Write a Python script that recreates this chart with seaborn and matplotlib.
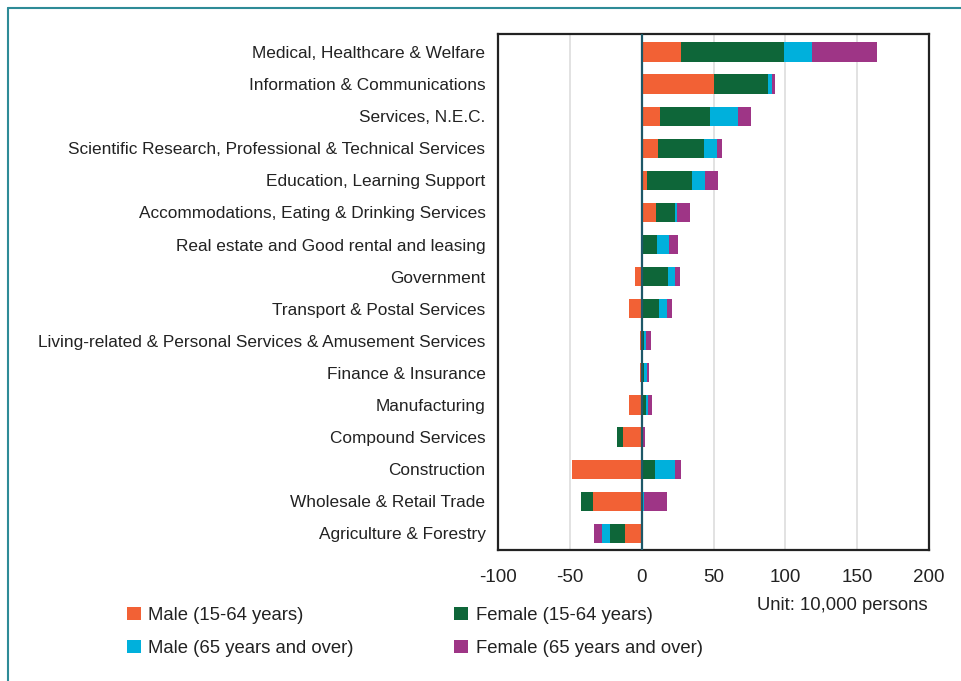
import numpy as np
import pandas as pd
import matplotlib
matplotlib.use("Agg")
import matplotlib.pyplot as plt
from matplotlib.patches import Patch
from matplotlib.lines import Line2D
import seaborn as sns

# Industries, top to bottom
industries = [
    "Medical, Healthcare & Welfare",
    "Information & Communications",
    "Services, N.E.C.",
    "Scientific Research, Professional & Technical Services",
    "Education, Learning Support",
    "Accommodations, Eating & Drinking Services",
    "Real estate and Good rental and leasing",
    "Government",
    "Transport & Postal Services",
    "Living-related & Personal Services & Amusement Services",
    "Finance & Insurance",
    "Manufacturing",
    "Compound Services",
    "Construction",
    "Wholesale & Retail Trade",
    "Agriculture & Forestry",
]

# change in employed persons (10,000 persons)
male_15_64 = [27.7, 50.0, 13.0, 11.6, 4.0, 10.2, 0.3, -4.4, -8.6, -0.9, -0.9, -8.6, -12.8, -48.4, -33.7, -11.4]
female_15_64 = [71.2, 37.7, 34.9, 32.1, 30.7, 13.3, 10.2, 18.6, 12.3, 1.9, 1.9, 3.3, -4.2, 9.5, -8.4, -10.5]
male_65_over = [19.5, 2.8, 19.5, 8.4, 9.1, 1.4, 8.4, 4.9, 5.6, 1.4, 2.1, 1.4, 1.2, 14.0, 1.9, -5.6]
female_65_over = [45.3, 2.1, 8.4, 3.5, 9.1, 8.4, 6.3, 3.5, 3.5, 3.5, 1.4, 2.8, 1.4, 4.2, 16.0, -5.6]

groups = ["Male (15-64 years)", "Female (15-64 years)",
          "Male (65 years and over)", "Female (65 years and over)"]
colors = ["#F26135", "#0E6639", "#00B0DC", "#9E3586"]

df = pd.DataFrame({"industry": industries,
                   groups[0]: male_15_64, groups[1]: female_15_64,
                   groups[2]: male_65_over, groups[3]: female_65_over})

sns.set_theme(style="white")
plt.rcParams["font.family"] = ["Liberation Sans", "DejaVu Sans"]
plt.rcParams["axes.unicode_minus"] = False

fig = plt.figure(figsize=(9.62, 6.81), dpi=100)
ax = fig.add_axes([498 / 962, 1 - 550 / 681, 431 / 962, 516 / 681])

# stacked diverging bars: cumulative ends per sign, drawn outermost first
vals = df[groups].to_numpy()
pos = np.cumsum(np.clip(vals, 0, None), axis=1)
neg = np.cumsum(np.clip(vals, None, 0), axis=1)
for i in range(3, -1, -1):
    for side in (pos, neg):
        sns.barplot(x=side[:, i], y=df["industry"], orient="h", color=colors[i],
                    saturation=1, width=0.6, errorbar=None, ax=ax, zorder=2,
                    linewidth=0, edgecolor="none")

ax.set_xlim(-100, 200)
ax.set_ylim(15.52, -0.56)
ax.set_xticks([-100, -50, 0, 50, 100, 150, 200])
ax.set_xlabel("")
ax.set_ylabel("")
for xv in [-50, 50, 100, 150]:
    ax.axvline(xv, color="#DDDDDD", lw=1.2, zorder=0)
ax.axvline(0, color="#1D5868", lw=1.6, zorder=3)
ax.tick_params(axis="both", length=0, colors="#222222")
ax.tick_params(axis="y", pad=9, labelsize=12.4)
ax.tick_params(axis="x", pad=14, labelsize=13.5)
for s in ax.spines.values():
    s.set_color("#222222")
    s.set_linewidth(1.6)

handles = [Patch(facecolor=colors[k], edgecolor="none") for k in [0, 2, 1, 3]]
labels = [groups[k] for k in [0, 2, 1, 3]]
fig.legend(handles, labels, ncol=2, loc="upper left",
           bbox_to_anchor=(110 / 962, 1 - 590 / 681), frameon=False,
           fontsize=13.3, handlelength=0.76, handleheight=0.76,
           handletextpad=0.4, columnspacing=5.45, labelspacing=0.85,
           labelcolor="#222222")

fig.text(928 / 962, 1 - 605 / 681, "Unit: 10,000 persons", ha="right", va="center",
         fontsize=13.3, color="#222222")

# outer frame
fig.add_artist(Line2D([8 / 962, 8 / 962], [1 - 8 / 681, 0], color="#2E8B97", lw=1.5))
fig.add_artist(Line2D([8 / 962, 1], [1 - 8 / 681, 1 - 8 / 681], color="#2E8B97", lw=1.5))

fig.savefig("out.png", dpi=100)
